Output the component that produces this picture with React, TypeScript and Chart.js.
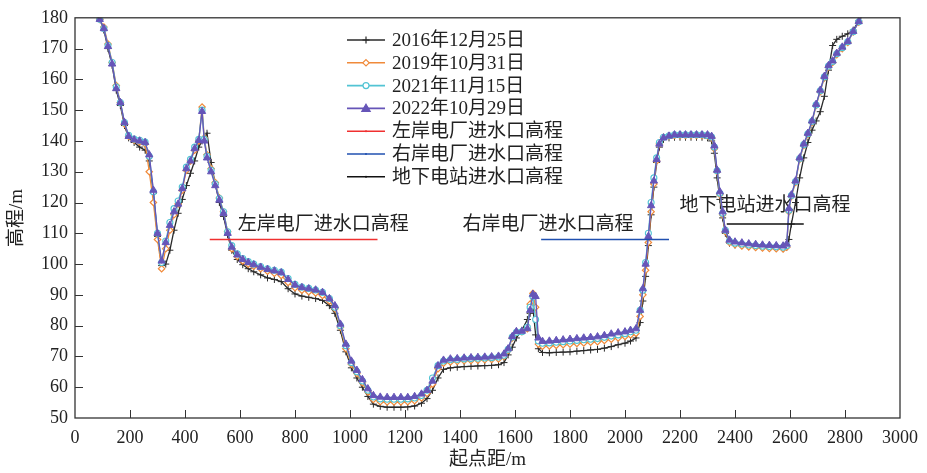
import React, { useEffect, useRef } from 'react';
import { Chart, registerables } from 'chart.js';

Chart.register(...registerables);

// 起点距 (m)
const distance = [
  70, 90, 105, 120, 135, 150, 165, 180, 195, 215,
  235, 255, 270, 285, 300, 315, 330, 345, 360, 375,
  390, 405, 420, 435, 450, 462, 470, 480, 495, 510,
  525, 540, 555, 570, 590, 610, 630, 650, 675, 700,
  725, 750, 775, 800, 825, 850, 875, 900, 925, 945,
  965, 985, 1005, 1025, 1045, 1065, 1085, 1110, 1135, 1160,
  1185, 1210, 1235, 1260, 1280, 1300, 1320, 1340, 1365, 1390,
  1415, 1440, 1465, 1490, 1515, 1540, 1560, 1575, 1590, 1605,
  1625, 1645, 1655, 1665, 1675, 1685, 1700, 1725, 1750, 1775,
  1800, 1825, 1850, 1875, 1900, 1925, 1950, 1975, 2000, 2020,
  2040, 2055, 2065, 2075, 2085, 2095, 2105, 2115, 2125, 2140,
  2160, 2180, 2200, 2220, 2240, 2260, 2280, 2300, 2315, 2325,
  2335, 2345, 2355, 2365, 2380, 2400, 2425, 2450, 2475, 2500,
  2525, 2550, 2575, 2588, 2596, 2605, 2620, 2635, 2650, 2665,
  2680, 2695, 2710, 2725, 2740, 2755, 2770, 2790, 2810, 2830,
  2850, 2870,
];

const elev2016 = [
  182, 179.5, 176, 170, 164.5, 156.5, 151.5, 145, 141, 139.5,
  138, 137, 133.5, 123, 109, 99.5, 100, 104.5, 111, 116.5,
  121, 125.5, 129.5, 133.5, 138, 140, 141, 142.5, 133, 126,
  120, 115.5, 109.5, 104.5, 101.5, 99.8, 98.5, 97.5, 96.5, 95.5,
  95, 94.3, 92, 90.3, 89.6, 89.2, 88.8, 88.2, 86.5, 84,
  78.5, 71.5, 66.3, 63, 60, 57, 54.5, 53.8, 53.5, 53.5,
  53.5, 53.6, 53.9, 54.8, 56.3, 59, 63, 65.8, 66.3, 66.5,
  66.7, 66.8, 66.9, 67, 67.1, 67.3, 68, 70.5, 73, 76,
  78.5, 82, 84, 86, 77, 72.5, 71.3, 71.2, 71.3, 71.4,
  71.5, 71.7, 71.9, 72.1, 72.3, 72.7, 73.2, 73.8, 74.3, 75,
  76, 81, 88, 96, 106, 116, 125, 133, 138, 140.5,
  141, 141.2, 141.2, 141.2, 141.2, 141.2, 141.2, 141, 140, 136,
  128, 121, 115, 110, 106.8, 106.2, 106, 105.8, 105.6, 105.4,
  105.3, 105.2, 105, 105.5, 108, 113, 120, 128, 134.5, 139.5,
  143.5, 146.5, 149.5, 154.5, 163, 171, 173, 174, 174.8, 176,
  179, 182,
];

const elev2019 = [
  182, 179.5, 177, 171.5, 165.5, 158, 152.5, 145.5, 141.5, 140.2,
  139.7, 139, 130, 120, 108, 98.5, 105, 111, 116, 119.5,
  124, 130.5, 133.5, 137, 140, 151, 141, 135.5, 131, 126.5,
  121.5, 117, 110.5, 105, 102.5, 101, 100, 99.3, 98.5, 97.7,
  97, 96.3, 94, 92.3, 91.5, 91, 90.6, 89.8, 88, 85.5,
  79.5, 72.5, 67.5, 64.5, 61.5, 58.5, 56, 55.3, 55.2, 55.2,
  55.2, 55.3, 55.6, 56.5, 58, 61, 66, 67.8, 68.2, 68.4,
  68.6, 68.7, 68.8, 68.9, 69, 69.2, 70, 72, 76, 77.8,
  78, 79, 87, 90.5, 86, 74, 73.3, 73.4, 73.6, 73.8,
  74, 74.2, 74.4, 74.6, 74.8, 75.2, 75.6, 76, 76.5, 77,
  77.5, 83, 90, 98, 107, 117, 126, 133.5, 139, 141.2,
  141.6, 141.8, 141.8, 141.8, 141.8, 141.8, 141.8, 141.6, 141, 137.5,
  130, 122.5, 116, 110.5, 107, 106.3, 105.9, 105.6, 105.4, 105.2,
  105.1, 105, 104.9, 105.5, 117, 122, 126.5, 134, 138.5, 142,
  146, 151.5, 156, 160.5, 164, 165.5, 168, 170, 172, 175.4,
  178.6, 182,
];

const elev2021 = [
  182, 179.5, 176.5, 171, 165.5, 157.5, 152.5, 146, 141.8, 140.6,
  140.2, 139.6, 135, 123.5, 110, 100.5, 107.5, 113.5, 118, 120.5,
  125, 131.5, 134, 138, 140.5, 150, 140.5, 135, 130.5, 126,
  121.3, 117, 110.5, 106, 103.3, 101.8, 100.8, 100, 99.2, 98.5,
  98, 97.4, 95.3, 93.4, 92.5, 92.1, 91.6, 90.8, 88.8, 86,
  80, 73.5, 68, 65, 62, 59, 56.8, 56.2, 56.1, 56.1,
  56.1, 56.2, 56.5, 57.3, 59, 63, 67, 68.5, 68.9, 69,
  69.2, 69.3, 69.4, 69.5, 69.6, 69.8, 70.4, 72.3, 76.3, 77.8,
  78, 79.5, 86, 89.5, 82, 75, 74.3, 74.4, 74.6, 74.8,
  75, 75.2, 75.4, 75.6, 75.8, 76.2, 76.6, 77, 77.4, 78,
  78.5, 85, 91.5, 100.5, 110, 120, 128, 134.5, 139.5, 141.2,
  141.7, 142, 142, 142, 142, 142, 142, 141.8, 141.3, 138,
  130.3, 123, 116.5, 111, 107.5, 106.8, 106.5, 106.2, 106, 105.8,
  105.7, 105.6, 105.5, 106, 117.5, 122.3, 126.8, 134.3, 138.8, 142.3,
  146.3, 151.7, 156.3, 160.8, 164.3, 165.8, 168.3, 170.3, 172.2, 175.5,
  178.7, 182,
];

const elev2022 = [
  182, 179.5, 176.5, 170.7, 165, 157, 152.5, 146, 141.5, 140.4,
  140, 139.5, 135.5, 124, 110, 101, 107, 112.6, 117, 119.5,
  124.5, 131, 133.5, 137.5, 140.2, 149.6, 140, 134.5, 130, 125.5,
  120.8, 116.5, 110, 105.5, 103, 101.5, 100.5, 99.8, 99, 98.3,
  97.8, 97.2, 95, 93.2, 92.4, 92, 91.6, 90.8, 88.8, 86.5,
  80.5, 74, 68.5, 65.5, 62.5, 59.5, 57.3, 56.8, 56.7, 56.7,
  56.7, 56.7, 57, 57.8, 59, 62, 67, 68.8, 69.2, 69.3,
  69.5, 69.6, 69.7, 69.8, 69.9, 70.1, 70.8, 72.5, 76.5, 78.1,
  78.2, 79, 85, 90.2, 89.5, 76, 74.9, 75, 75.2, 75.4,
  75.6, 75.8, 76, 76.2, 76.4, 76.8, 77.3, 77.7, 78, 78.5,
  79, 85, 92, 100, 109, 119, 127, 134, 139, 141,
  141.6, 142, 142, 142, 142, 142, 142, 142, 141.5, 138.4,
  130.5, 123.5, 117, 111, 107.8, 107.2, 106.9, 106.6, 106.4, 106.2,
  106.1, 106, 105.9, 106.5, 118, 122.5, 127, 134.5, 139, 142.5,
  146.5, 151.9, 156.5, 161, 164.5, 166, 168.5, 170.5, 172.3, 175.6,
  178.8, 182,
];

const surveyNames = ['2016年12月25日', '2019年10月31日', '2021年11月15日', '2022年10月29日'];
const intakeNames = ['左岸电厂进水口高程', '右岸电厂进水口高程', '地下电站进水口高程'];
const intakeStart = [490, 1695, 2370];
const intakeEnd = [1100, 2160, 2650];
const intakeLevel = [108, 108, 113];

const FONT = "'Liberation Serif', 'Noto Sans CJK SC', serif";
const TEXT = '#222';

type Sty = { color: string; marker: string; fill: string; radius: number; lw: number };
const surveyStyles: Sty[] = [
  { color: '#2a2a2a', marker: 'cross', fill: '#2a2a2a', radius: 3.5, lw: 1 },
  { color: '#F08A3A', marker: 'rectRot', fill: '#ffffff', radius: 3.2, lw: 1.2 },
  { color: '#52C4D4', marker: 'circle', fill: '#ffffff', radius: 3, lw: 1.1 },
  { color: '#6655B8', marker: 'triangle', fill: '#6655B8', radius: 4.2, lw: 1 },
];
const intakeColors = ['#F03030', '#2050B0', '#111111'];

function drawMarker(ctx: CanvasRenderingContext2D, kind: string, x: number, y: number, r: number, color: string, fill: string) {
  ctx.save();
  ctx.strokeStyle = color;
  ctx.fillStyle = fill;
  ctx.lineWidth = 1.2;
  ctx.beginPath();
  if (kind === 'cross') {
    ctx.moveTo(x - r, y); ctx.lineTo(x + r, y);
    ctx.moveTo(x, y - r); ctx.lineTo(x, y + r);
    ctx.stroke();
  } else if (kind === 'rectRot') {
    ctx.moveTo(x, y - r); ctx.lineTo(x + r, y); ctx.lineTo(x, y + r); ctx.lineTo(x - r, y); ctx.closePath();
    ctx.fill(); ctx.stroke();
  } else if (kind === 'circle') {
    ctx.arc(x, y, r, 0, Math.PI * 2);
    ctx.fill(); ctx.stroke();
  } else if (kind === 'triangle') {
    ctx.moveTo(x, y - r); ctx.lineTo(x + r, y + r * 0.7); ctx.lineTo(x - r, y + r * 0.7); ctx.closePath();
    ctx.fill(); ctx.stroke();
  } else if (kind === 'dot') {
    ctx.arc(x, y, 1, 0, Math.PI * 2);
    ctx.fill();
  }
  ctx.restore();
}

const labelX = [592, 1409, 2198];
const labelY = [112.6, 112.6, 118.7];

const decorPlugin = {
  id: 'decor',
  beforeDatasetsDraw(chart: any) {
    const { ctx, scales } = chart;
    const xs = scales.x, ys = scales.y;
    ctx.save();
    ctx.font = `19px ${FONT}`;
    ctx.fillStyle = TEXT;
    ctx.textAlign = 'left';
    ctx.textBaseline = 'middle';
    intakeNames.forEach((t, i) => {
      ctx.fillText(t, xs.getPixelForValue(labelX[i]), ys.getPixelForValue(labelY[i]));
    });
    ctx.restore();
  },
  afterDatasetsDraw(chart: any) {
    const { ctx, chartArea, scales } = chart;
    const { left, right, top, bottom } = chartArea;
    const xs = scales.x, ys = scales.y;
    ctx.save();
    // frame
    ctx.strokeStyle = '#333';
    ctx.lineWidth = 1.3;
    ctx.strokeRect(left, top, right - left, bottom - top);
    // inside ticks
    ctx.beginPath();
    for (let v = 60; v < 180; v += 10) {
      const py = Math.round(ys.getPixelForValue(v)) + 0.5;
      ctx.moveTo(left, py); ctx.lineTo(left + 8, py);
    }
    for (let v = 200; v < 3000; v += 200) {
      const px = Math.round(xs.getPixelForValue(v)) + 0.5;
      ctx.moveTo(px, bottom); ctx.lineTo(px, bottom - 8);
    }
    ctx.lineWidth = 1;
    ctx.stroke();

    // legend
    const lx = 347, ly = 40, gap = 22.8, len = 38;
    const entries = [
      ...surveyNames.map((n, i) => ({ n, c: surveyStyles[i].color, m: surveyStyles[i].marker, f: surveyStyles[i].fill, r: surveyStyles[i].radius })),
      ...intakeNames.map((n, i) => ({ n, c: intakeColors[i], m: 'dot', f: intakeColors[i], r: 1 })),
    ];
    ctx.font = `19px ${FONT}`;
    ctx.textAlign = 'left';
    ctx.textBaseline = 'middle';
    entries.forEach((e, i) => {
      const y = ly + i * gap;
      ctx.strokeStyle = e.c;
      ctx.lineWidth = 1.6;
      ctx.beginPath();
      ctx.moveTo(lx, y); ctx.lineTo(lx + len, y);
      ctx.stroke();
      drawMarker(ctx, e.m, lx + len / 2, y, e.r, e.c, e.f);
      ctx.fillStyle = TEXT;
      ctx.fillText(e.n, lx + 45, y + 1);
    });

    // axis titles
    ctx.fillStyle = TEXT;
    ctx.font = `19px ${FONT}`;
    ctx.textAlign = 'center';
    ctx.textBaseline = 'middle';
    ctx.fillText('起点距/m', (left + right) / 2, 460);
    ctx.translate(17, (top + bottom) / 2);
    ctx.rotate(-Math.PI / 2);
    ctx.fillText('高程/m', 0, 0);
    ctx.restore();
  },
};

export default function App() {
  const ref = useRef<HTMLCanvasElement | null>(null);
  useEffect(() => {
    document.body.style.margin = '0';
    if (!ref.current) return;
    const seriesY = [elev2016, elev2019, elev2021, elev2022];
    const orders = [4, 3, 2, 1];
    const datasets: any[] = seriesY.map((ys, i) => {
      const s = surveyStyles[i];
      return {
        label: surveyNames[i],
        data: distance.map((x, j) => ({ x, y: ys[j] })),
        borderColor: s.color,
        backgroundColor: s.fill,
        borderWidth: 1.3,
        pointStyle: s.marker,
        pointRadius: s.radius,
        pointBorderColor: s.color,
        pointBackgroundColor: s.fill,
        pointBorderWidth: s.lw,
        tension: 0,
        order: orders[i],
      };
    });
    intakeNames.forEach((n, i) => {
      datasets.push({
        label: n,
        data: [
          { x: intakeStart[i], y: intakeLevel[i] },
          { x: intakeEnd[i], y: intakeLevel[i] },
        ],
        borderColor: intakeColors[i],
        borderWidth: 1.5,
        pointRadius: 0,
        order: 0,
      });
    });
    const chart = new Chart(ref.current, {
      type: 'line',
      data: { datasets },
      options: {
        animation: false,
        responsive: false,
        layout: { padding: { top: 11, right: 26, left: 0, bottom: 0 } },
        plugins: { legend: { display: false }, tooltip: { enabled: false } },
        scales: {
          x: {
            type: 'linear',
            min: 0,
            max: 3000,
            grid: { display: false, drawTicks: false },
            border: { display: false },
            ticks: {
              stepSize: 200, padding: 9, color: TEXT, font: { family: FONT, size: 18 },
              maxRotation: 0, autoSkip: false,
              callback: (v: any) => String(v),
            },
            afterFit: (s: any) => { s.height = 55; },
          },
          y: {
            min: 50,
            max: 180,
            grid: { display: false, drawTicks: false },
            border: { display: false },
            ticks: { stepSize: 10, padding: 7, color: TEXT, font: { family: FONT, size: 18 }, callback: (v: any) => String(v) },
            afterFit: (s: any) => { s.width = 75; },
          },
        },
      },
      plugins: [decorPlugin],
    });
    return () => chart.destroy();
  }, []);
  return (
    <div style={{ width: 927, height: 473 }}>
      <canvas ref={ref} width={927} height={473} style={{ display: 'block' }} />
    </div>
  );
}
